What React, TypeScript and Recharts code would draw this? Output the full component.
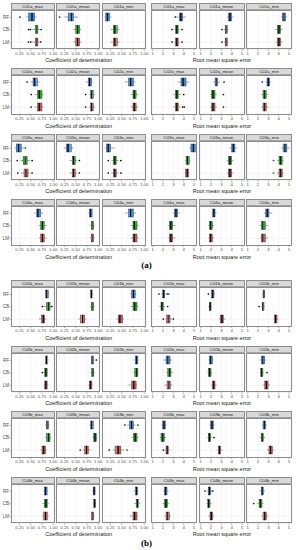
import React from 'react';
import { ComposedChart, Bar, XAxis, YAxis, CartesianGrid, ReferenceLine } from 'recharts';

// ---------- categories / labels ----------
const models = ['RF', 'CB', 'LM'];
const variants = ['max', 'mean', 'min'];
const stations = ['C01', 'C02', 'C03', 'C04'];
const parts = ['a', 'b'];
const r2Ticks = [0.25, 0.5, 0.75, 1.0];
const rmseTicks = [1, 2, 3, 4, 5];
const r2Minor = [0.125, 0.375, 0.625, 0.875];
const rmseMinor = [1.5, 2.5, 3.5, 4.5];
const r2Domain = [0.06, 1.04];
const rmseDomain = [0.835, 5.29];
const r2Title = 'Coefficient of determination';
const rmseTitle = 'Root mean square error';

// each array: [max, mean, min] facets -> [RF, CB, LM] -> [lower whisker, q1, median, q3, upper whisker, ...outliers]
const r2_C01a = [
  [[0.40, 0.45, 0.53, 0.59, 0.63, 0.26], [0.52, 0.60, 0.63, 0.66, 0.70, 0.45, 0.49, 0.73], [0.52, 0.60, 0.63, 0.66, 0.70, 0.45, 0.50, 0.72]],
  [[0.25, 0.33, 0.40, 0.45, 0.55, 0.14], [0.44, 0.50, 0.54, 0.59, 0.63], [0.44, 0.50, 0.54, 0.59, 0.63]],
  [[0.11, 0.14, 0.18, 0.23, 0.27], [0.25, 0.31, 0.35, 0.40, 0.45], [0.25, 0.31, 0.35, 0.40, 0.45]],
];
const rmse_C01a = [
  [[3.3, 3.58, 3.74, 3.9, 4.2, 3.2], [3.1, 3.2, 3.35, 3.5, 3.6, 2.87, 3.84], [3.1, 3.2, 3.35, 3.5, 3.6, 2.87, 3.84]],
  [[3.5, 3.68, 3.84, 4.0, 4.16], [3.26, 3.39, 3.48, 3.58, 3.68, 3.06], [3.26, 3.39, 3.48, 3.58, 3.68, 3.06]],
  [[4.22, 4.35, 4.5, 4.68, 4.8], [3.7, 3.87, 4.03, 4.19, 4.4], [3.7, 3.87, 4.03, 4.19, 4.4]],
];
const r2_C02a = [
  [[0.50, 0.55, 0.59, 0.65, 0.70, 0.42], [0.59, 0.65, 0.69, 0.75, 0.78, 0.51], [0.59, 0.65, 0.69, 0.75, 0.78, 0.51]],
  [[0.72, 0.78, 0.81, 0.85, 0.89], [0.80, 0.83, 0.86, 0.89, 0.93, 0.72], [0.80, 0.83, 0.86, 0.89, 0.93, 0.72]],
  [[0.57, 0.65, 0.70, 0.76, 0.80], [0.70, 0.75, 0.78, 0.82, 0.87], [0.70, 0.75, 0.78, 0.82, 0.87]],
];
const rmse_C02a = [
  [[3.42, 3.74, 3.95, 4.23, 4.55], [3.0, 3.19, 3.35, 3.52, 3.7, 4.0], [3.0, 3.19, 3.35, 3.52, 3.7, 3.9, 4.06]],
  [[2.23, 2.39, 2.52, 2.65, 2.87, 3.26], [1.9, 2.06, 2.2, 2.39, 2.55, 3.2], [1.9, 2.06, 2.2, 2.39, 2.55, 3.2]],
  [[2.74, 2.87, 3.0, 3.13, 3.26, 2.42], [2.32, 2.48, 2.6, 2.8, 2.97], [2.32, 2.48, 2.6, 2.8, 2.97]],
];
const r2_C03a = [
  [[0.14, 0.175, 0.23, 0.29, 0.35, 0.38], [0.27, 0.33, 0.38, 0.42, 0.48, 0.20, 0.53], [0.28, 0.35, 0.39, 0.44, 0.48, 0.21, 0.53]],
  [[0.23, 0.29, 0.33, 0.40, 0.45], [0.36, 0.42, 0.45, 0.49, 0.53, 0.58], [0.36, 0.42, 0.45, 0.49, 0.53, 0.58]],
  [[0.12, 0.16, 0.20, 0.25, 0.35], [0.27, 0.31, 0.35, 0.385, 0.43, 0.20, 0.48], [0.27, 0.31, 0.35, 0.385, 0.43, 0.20, 0.48]],
];
const rmse_C03a = [
  [[4.55, 4.7, 4.94, 5.13, 5.26], [4.13, 4.23, 4.39, 4.55, 4.65], [4.1, 4.19, 4.35, 4.5, 4.6]],
  [[3.77, 4.0, 4.16, 4.32, 4.55], [3.52, 3.68, 3.84, 4.0, 4.16], [3.52, 3.68, 3.84, 4.0, 4.16]],
  [[4.26, 4.42, 4.6, 4.8, 5.06], [3.87, 4.03, 4.2, 4.35, 4.48, 3.5], [3.87, 4.03, 4.2, 4.35, 4.48, 3.5]],
];
const r2_C04a = [
  [[0.57, 0.625, 0.66, 0.72, 0.78], [0.68, 0.72, 0.76, 0.80, 0.85], [0.68, 0.72, 0.76, 0.80, 0.85]],
  [[0.78, 0.80, 0.83, 0.87, 0.88], [0.82, 0.85, 0.87, 0.90, 0.92], [0.82, 0.85, 0.87, 0.90, 0.92]],
  [[0.57, 0.65, 0.70, 0.76, 0.82], [0.70, 0.75, 0.78, 0.84, 0.88], [0.70, 0.75, 0.78, 0.84, 0.88]],
];
const rmse_C04a = [
  [[2.94, 3.1, 3.26, 3.42, 3.65], [2.45, 2.61, 2.77, 2.94, 3.2], [2.45, 2.61, 2.77, 2.94, 3.2]],
  [[2.06, 2.16, 2.29, 2.39, 2.55], [1.74, 1.84, 1.97, 2.13, 2.29], [1.74, 1.84, 1.97, 2.13, 2.29]],
  [[2.55, 2.74, 2.9, 3.06, 3.39], [2.16, 2.32, 2.48, 2.71, 2.97], [2.16, 2.32, 2.48, 2.71, 2.97]],
];
const r2_C01b = [
  [[0.81, 0.83, 0.86, 0.89, 0.91], [0.78, 0.85, 0.89, 0.93, 0.96, 0.76, 0.97], [0.68, 0.74, 0.78, 0.81, 0.85]],
  [[0.81, 0.83, 0.85, 0.87, 0.89], [0.83, 0.85, 0.87, 0.90, 0.92], [0.55, 0.60, 0.65, 0.70, 0.74]],
  [[0.68, 0.72, 0.76, 0.80, 0.83], [0.70, 0.75, 0.79, 0.84, 0.87], [0.38, 0.42, 0.46, 0.52, 0.55]],
];
const rmse_C01b = [
  [[1.8, 1.97, 2.06, 2.16, 2.3, 1.6, 2.42, 2.55], [1.65, 1.8, 1.9, 2.03, 2.2, 2.45], [2.23, 2.35, 2.52, 2.68, 2.87, 2.03, 3.0]],
  [[1.97, 2.06, 2.16, 2.29, 2.39, 1.74], [1.74, 1.84, 1.92, 2.0, 2.1], [2.77, 2.9, 3.06, 3.2, 3.39]],
  [[2.42, 2.48, 2.55, 2.65, 2.71], [2.32, 2.4, 2.48, 2.58, 2.65, 2.1], [3.45, 3.6, 3.7, 3.84, 3.97]],
];
const r2_C02b = [
  [[0.81, 0.83, 0.85, 0.88, 0.90], [0.79, 0.81, 0.84, 0.87, 0.88, 0.76], [0.79, 0.81, 0.84, 0.87, 0.89]],
  [[0.83, 0.85, 0.87, 0.90, 0.92, 0.96], [0.83, 0.85, 0.88, 0.90, 0.92], [0.78, 0.80, 0.83, 0.86, 0.88]],
  [[0.77, 0.80, 0.83, 0.86, 0.88], [0.76, 0.79, 0.83, 0.86, 0.88], [0.65, 0.72, 0.77, 0.82, 0.84]],
];
const rmse_C02b = [
  [[2.03, 2.29, 2.48, 2.68, 2.87], [2.29, 2.45, 2.61, 2.77, 2.94], [2.13, 2.39, 2.55, 2.71, 2.9]],
  [[1.74, 1.84, 1.97, 2.13, 2.23], [1.65, 1.74, 1.87, 2.0, 2.1], [2.0, 2.13, 2.26, 2.39, 2.55]],
  [[2.16, 2.32, 2.48, 2.65, 2.81], [2.16, 2.26, 2.35, 2.48, 2.6, 2.87], [2.45, 2.65, 2.81, 2.97, 3.2]],
];
const r2_C03b = [
  [[0.82, 0.85, 0.87, 0.90, 0.92], [0.82, 0.85, 0.89, 0.93, 0.95], [0.71, 0.75, 0.79, 0.83, 0.86]],
  [[0.80, 0.83, 0.86, 0.89, 0.91], [0.87, 0.90, 0.93, 0.96, 0.98], [0.65, 0.70, 0.74, 0.78, 0.83, 0.60]],
  [[0.62, 0.67, 0.72, 0.76, 0.80, 0.57, 0.86], [0.72, 0.76, 0.80, 0.84, 0.87], [0.30, 0.35, 0.42, 0.48, 0.56, 0.22, 0.62]],
];
const rmse_C03b = [
  [[1.84, 1.97, 2.1, 2.23, 2.35], [1.7, 1.8, 1.97, 2.13, 2.29], [2.16, 2.29, 2.42, 2.55, 2.68, 2.03]],
  [[1.84, 1.97, 2.1, 2.23, 2.35], [1.65, 1.74, 1.84, 1.97, 2.1, 2.29], [2.55, 2.71, 2.82, 2.94, 3.13]],
  [[2.35, 2.48, 2.6, 2.74, 2.87], [2.16, 2.32, 2.42, 2.55, 2.68], [2.87, 3.06, 3.22, 3.39, 3.58]],
];
const r2_C04b = [
  [[0.78, 0.80, 0.83, 0.87, 0.89], [0.76, 0.80, 0.84, 0.88, 0.90], [0.75, 0.79, 0.83, 0.88, 0.90]],
  [[0.87, 0.89, 0.91, 0.93, 0.94], [0.88, 0.90, 0.92, 0.94, 0.95], [0.83, 0.85, 0.875, 0.90, 0.92]],
  [[0.77, 0.80, 0.83, 0.85, 0.88], [0.78, 0.82, 0.85, 0.88, 0.91], [0.67, 0.75, 0.79, 0.84, 0.86]],
];
const rmse_C04b = [
  [[2.0, 2.13, 2.26, 2.39, 2.55], [1.97, 2.13, 2.29, 2.45, 2.61], [2.13, 2.29, 2.45, 2.61, 2.77]],
  [[1.58, 1.74, 1.84, 1.97, 2.1, 1.42, 2.16], [1.55, 1.68, 1.78, 1.9, 2.03], [1.74, 1.9, 2.03, 2.16, 2.32]],
  [[2.16, 2.32, 2.42, 2.55, 2.68], [1.94, 2.1, 2.23, 2.39, 2.55, 1.58], [2.32, 2.48, 2.65, 2.81, 2.97]],
];

const r2Data = [r2_C01a, r2_C02a, r2_C03a, r2_C04a, r2_C01b, r2_C02b, r2_C03b, r2_C04b];
const rmseData = [rmse_C01a, rmse_C02a, rmse_C03a, rmse_C04a, rmse_C01b, rmse_C02b, rmse_C03b, rmse_C04b];

// ---------- styling / layout ----------
const FONT = '"Liberation Sans", Arial, sans-serif';
const modelColors: Record<string, string> = { RF: '#3A8EE6', CB: '#1FB21F', LM: '#CC5E57' };
const BLOCK_TOPS = [2.5, 68, 133.5, 199, 280, 345.5, 411, 476.5];
const STRIP_H = 7;
const PLOT_H = 39.5;
const AXIS_H = 8;
const Y_AXIS_W = 10;
const LEFT_X = [10.5, 56, 101.5];
const LEFT_W = 44;
const RIGHT_X = [151, 198.5, 246];
const RIGHT_W = 46;
const NSEG = 9;

type Row = { name: string; color: string; kinds: string[]; [k: string]: any };

function buildRow(name: string, s: number[]): Row {
  const [lo, q1, med, q3, hi, ...outs] = s;
  const low = outs.filter((v) => v < lo).sort((a, b) => a - b);
  const high = outs.filter((v) => v > hi).sort((a, b) => a - b);
  const pts = [...low, lo, q1, med, q3, hi, ...high];
  const kinds = [...low.map(() => 'dot'), 'gap', 'whisker', 'boxL', 'boxU', 'whisker', ...high.map(() => 'dot')];
  const row: Row = { name, color: modelColors[name], kinds: [] };
  for (let i = 0; i < NSEG; i++) {
    if (i < pts.length) {
      row['s' + i] = pts[i] - (i ? pts[i - 1] : 0);
      row.kinds.push(kinds[i]);
    } else {
      row['s' + i] = 0;
      row.kinds.push('none');
    }
  }
  return row;
}

const makeShape = (k: number, rows: Row[]) => (props: any) => {
  const { x, y, width, height, index } = props;
  const payload: Row = props.payload && props.payload.kinds ? props.payload : rows[index];
  if (!payload) return null;
  const kind = payload.kinds[k];
  if (kind === 'none' || kind === 'gap') return <g />;
  const cy = y + height / 2;
  if (kind === 'dot') return <circle cx={x + width} cy={cy} r={0.85} fill="#000" />;
  if (kind === 'whisker')
    return <line x1={x} x2={x + width} y1={cy} y2={cy} stroke="#333" strokeWidth={0.45} />;
  if (kind === 'boxL')
    return (
      <g>
        <rect x={x} y={y} width={width} height={height} fill={payload.color} stroke="#333" strokeWidth={0.4} />
        <line x1={x + width} x2={x + width} y1={y} y2={y + height} stroke="#000" strokeWidth={0.9} />
      </g>
    );
  return (
    <g>
      <rect x={x} y={y} width={width} height={height} fill={payload.color} stroke="#333" strokeWidth={0.4} />
      <line x1={x} x2={x} y1={y} y2={y + height} stroke="#000" strokeWidth={0.9} />
    </g>
  );
};

type FacetProps = {
  left: number;
  top: number;
  width: number;
  label: string;
  stats: number[][];
  domain: number[];
  ticks: number[];
  minor: number[];
  fmt: (v: number) => string;
  showY: boolean;
};

function Facet({ left, top, width, label, stats, domain, ticks, minor, fmt, showY }: FacetProps) {
  const rows = models.map((m, i) => buildRow(m, stats[i]));
  const yW = showY ? Y_AXIS_W : 0;
  return (
    <>
      <div
        style={{
          position: 'absolute',
          left,
          top,
          width,
          height: STRIP_H,
          background: '#D9D9D9',
          border: '0.5px solid #8C8C8C',
          boxSizing: 'border-box',
          fontSize: 4.3,
          lineHeight: STRIP_H - 1 + 'px',
          textAlign: 'center',
          color: '#1A1A1A',
          fontFamily: FONT,
          whiteSpace: 'nowrap',
        }}
      >
        {label}
      </div>
      <div style={{ position: 'absolute', left: left - yW, top: top + STRIP_H }}>
        <ComposedChart
          width={width + yW}
          height={PLOT_H + AXIS_H}
          data={rows}
          layout="vertical"
          margin={{ top: 0, right: 0, bottom: 0, left: 0 }}
        >
          <CartesianGrid stroke="#EBEBEB" strokeWidth={0.55} />
          {minor.map((v) => (
            <ReferenceLine key={v} x={v} stroke="#F4F4F4" strokeWidth={0.35} />
          ))}
          <XAxis
            type="number"
            domain={domain}
            allowDataOverflow
            ticks={ticks}
            interval={0}
            tickFormatter={fmt}
            tick={{ fontSize: 4.3, fill: '#4D4D4D', fontFamily: FONT }}
            tickSize={1.5}
            tickMargin={0.5}
            tickLine={{ stroke: '#333', strokeWidth: 0.4 }}
            axisLine={false}
            height={AXIS_H}
          />
          {showY ? (
            <YAxis
              type="category"
              dataKey="name"
              width={Y_AXIS_W}
              padding={{ top: 1, bottom: 1 }}
              tick={{ fontSize: 4.5, fill: '#4D4D4D', fontFamily: FONT }}
              tickSize={1.5}
              tickMargin={0.5}
              tickLine={{ stroke: '#333', strokeWidth: 0.4 }}
              axisLine={false}
            />
          ) : (
            <YAxis type="category" dataKey="name" hide padding={{ top: 1, bottom: 1 }} />
          )}
          {Array.from({ length: NSEG }, (_, k) => (
            <Bar
              key={k}
              dataKey={'s' + k}
              stackId="box"
              barSize={8}
              isAnimationActive={false}
              shape={makeShape(k, rows)}
            />
          ))}
        </ComposedChart>
      </div>
      <div
        style={{
          position: 'absolute',
          left,
          top: top + STRIP_H,
          width,
          height: PLOT_H,
          border: '0.5px solid #8C8C8C',
          boxSizing: 'border-box',
          pointerEvents: 'none',
        }}
      />
    </>
  );
}

const fmtR2 = (v: number) => v.toFixed(2);
const fmtRmse = (v: number) => String(v);

export default function App() {
  const blocks: React.ReactNode[] = [];
  BLOCK_TOPS.forEach((top, b) => {
    const part = parts[b < 4 ? 0 : 1];
    const st = stations[b % 4] + part;
    variants.forEach((vName, f) => {
      blocks.push(
        <Facet
          key={`r2-${b}-${f}`}
          left={LEFT_X[f]}
          top={top}
          width={LEFT_W}
          label={`${st}_${vName}`}
          stats={r2Data[b][f]}
          domain={r2Domain}
          ticks={r2Ticks}
          minor={r2Minor}
          fmt={fmtR2}
          showY={f === 0}
        />
      );
      blocks.push(
        <Facet
          key={`rmse-${b}-${f}`}
          left={RIGHT_X[f]}
          top={top}
          width={RIGHT_W}
          label={`${st}_${vName}`}
          stats={rmseData[b][f]}
          domain={rmseDomain}
          ticks={rmseTicks}
          minor={rmseMinor}
          fmt={fmtRmse}
          showY={false}
        />
      );
    });
    const titleStyle: React.CSSProperties = {
      position: 'absolute',
      top: top + 54.5,
      width: 120,
      textAlign: 'center',
      fontSize: 5.5,
      lineHeight: '6px',
      color: '#1A1A1A',
      fontFamily: FONT,
      whiteSpace: 'nowrap',
    };
    blocks.push(
      <div key={`t1-${b}`} style={{ ...titleStyle, left: 78.7 - 60 }}>
        {r2Title}
      </div>
    );
    blocks.push(
      <div key={`t2-${b}`} style={{ ...titleStyle, left: 222 - 60 }}>
        {rmseTitle}
      </div>
    );
  });
  const capStyle: React.CSSProperties = {
    position: 'absolute',
    left: 116.5,
    width: 60,
    textAlign: 'center',
    fontFamily: '"Liberation Serif", "Times New Roman", serif',
    fontWeight: 'bold',
    fontSize: 9,
    lineHeight: '10px',
    color: '#000',
  };
  return (
    <div style={{ position: 'absolute', left: 0, top: 0, width: 296, height: 550, background: '#fff', overflow: 'hidden' }}>
      <style>{'.recharts-surface{overflow:visible}'}</style>
      {blocks}
      <div style={{ ...capStyle, top: 259.5 }}>(a)</div>
      <div style={{ ...capStyle, top: 538 }}>(b)</div>
    </div>
  );
}
